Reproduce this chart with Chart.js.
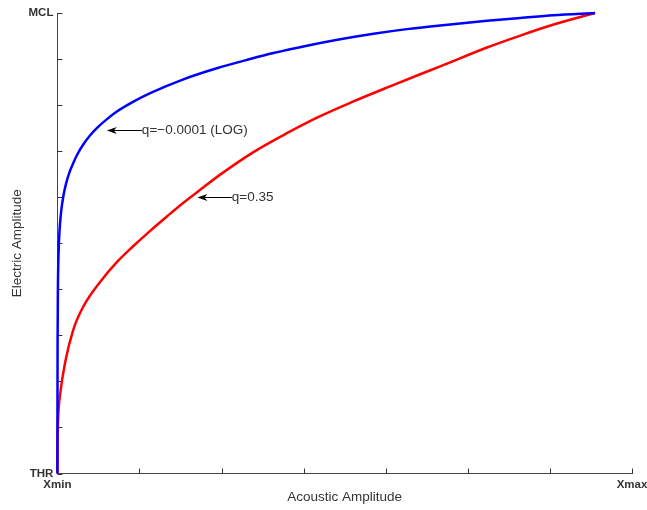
<!DOCTYPE html>
<html lang="en">
<head>
    <meta charset="UTF-8">
    <title>Loudness growth</title>
    <style>
        body {
            margin: 0;
            background: #fff;
        }
        #chartContainer {
            width: 647px;
            height: 510px;
        }
    </style>
</head>
<body>

<div id="chartContainer">
    <canvas id="myChart" width="647" height="510"></canvas>
</div>

<script src="https://cdn.jsdelivr.net/npm/chart.js"></script>
<script>
    // curve q=-0.0001 (LOG)
    const logX = [0, 0.006, 0.024, 0.061, 0.134, 0.268, 0.475, 0.731, 1.06, 1.49, 1.95, 2.52, 3.17, 3.92,
        4.80, 5.93, 7.24, 9.10, 11.30, 15.35, 19.42, 23.48, 26.32, 30.39, 34.45, 38.51, 42.58, 46.64,
        52.33, 56.39, 60.39, 65.5];
    const logY = [0, 13.9, 29.0, 40.0, 47.5, 53.0, 57.2, 60.3, 63.0, 65.5, 67.5, 69.6, 71.5, 73.3,
        75.0, 76.8, 78.6, 80.6, 82.6, 85.6, 88.0, 90.0, 91.3, 92.9, 94.3, 95.5, 96.5, 97.3,
        98.3, 98.9, 99.5, 100];

    // curve q=0.35
    const powX = [0, 0.012, 0.049, 0.146, 0.329, 0.938, 1.95, 3.17, 5.20, 7.24, 9.26, 11.30, 13.33,
        15.35, 17.39, 19.83, 23.88, 27.95, 32.01, 36.07, 40.14, 44.20, 46.64, 52.33, 56.39, 60.45, 65.5];
    const powY = [0, 5.2, 9.6, 13.9, 17.2, 24.1, 31.3, 36.3, 41.6, 45.9, 49.4, 52.7, 55.8,
        58.8, 61.6, 64.9, 69.8, 73.9, 77.6, 80.8, 83.8, 86.7, 88.4, 92.5, 95.1, 97.5, 100];

    const xTickLabels = ['Xmin', '', '', '', '', '', '', 'Xmax'];
    const yTickLabels = ['THR', '', '', '', '', '', '', '', '', '', 'MCL'];

    const notes = [
        {text: 'q=\u22120.0001 (LOG)', tipX: 6.02, tipY: 74.7, tailX: 10.29},
        {text: 'q=0.35', tipX: 17.06, tipY: 60.0, tailX: 21.25}
    ];

    const FONT = '"Liberation Sans", Arial, Helvetica, sans-serif';

    function toPoints(xs, ys) {
        return xs.map((x, i) => ({x: x, y: ys[i]}));
    }

    // short tick marks pointing into the plot
    const innerTicks = {
        id: 'innerTicks',
        beforeDatasetsDraw(chart) {
            const {ctx, chartArea, scales} = chart;
            ctx.save();
            ctx.strokeStyle = '#333';
            ctx.lineWidth = 1;
            ctx.beginPath();
            scales.x.ticks.forEach(t => {
                const px = Math.round(scales.x.getPixelForValue(t.value)) + 0.5;
                ctx.moveTo(px, chartArea.bottom);
                ctx.lineTo(px, chartArea.bottom - 5);
            });
            scales.y.ticks.forEach(t => {
                const py = Math.round(scales.y.getPixelForValue(t.value)) + 0.5;
                ctx.moveTo(chartArea.left, py);
                ctx.lineTo(chartArea.left + 5, py);
            });
            ctx.stroke();
            ctx.restore();
        }
    };

    // arrows with text pointing at the curves
    const arrowNotes = {
        id: 'arrowNotes',
        afterDatasetsDraw(chart) {
            const {ctx, scales} = chart;
            ctx.save();
            notes.forEach(n => {
                const tx = scales.x.getPixelForValue(n.tipX);
                const ty = Math.round(scales.y.getPixelForValue(n.tipY)) + 0.5;
                const ex = scales.x.getPixelForValue(n.tailX);
                ctx.strokeStyle = '#000';
                ctx.lineWidth = 1;
                ctx.beginPath();
                ctx.moveTo(tx + 5, ty);
                ctx.lineTo(ex, ty);
                ctx.stroke();
                ctx.fillStyle = '#000';
                ctx.beginPath();
                ctx.moveTo(tx, ty);
                ctx.lineTo(tx + 10, ty - 3.5);
                ctx.lineTo(tx + 7, ty);
                ctx.lineTo(tx + 10, ty + 3.5);
                ctx.closePath();
                ctx.fill();
                ctx.fillStyle = '#333';
                ctx.font = '13.5px ' + FONT;
                ctx.textAlign = 'left';
                ctx.textBaseline = 'middle';
                ctx.fillText(n.text, ex, ty);
            });
            ctx.restore();
        }
    };

    document.addEventListener('DOMContentLoaded', () => {
        const ctx = document.getElementById('myChart').getContext('2d');

        new Chart(ctx, {
            type: 'scatter',
            data: {
                datasets: [{
                    label: 'q=-0.0001 (LOG)',
                    data: toPoints(logX, logY),
                    borderColor: '#0000ff',
                    borderWidth: 2.5,
                    showLine: true,
                    pointRadius: 0,
                    cubicInterpolationMode: 'monotone',
                    clip: false
                }, {
                    label: 'q=0.35',
                    data: toPoints(powX, powY),
                    borderColor: '#ff0000',
                    borderWidth: 2.5,
                    showLine: true,
                    pointRadius: 0,
                    cubicInterpolationMode: 'monotone',
                    clip: false
                }]
            },
            options: {
                responsive: false,
                animation: false,
                layout: {
                    padding: {left: 8, right: 0, top: 13, bottom: 1.5}
                },
                plugins: {
                    legend: {display: false},
                    tooltip: {enabled: false}
                },
                scales: {
                    x: {
                        type: 'linear',
                        min: 0,
                        max: 70,
                        // Xmax label may hang a bit past the edge, like the original
                        afterFit: (scale) => { scale.paddingRight = 15; },
                        grid: {display: false, drawTicks: false},
                        border: {display: true, color: '#444', width: 1},
                        ticks: {
                            stepSize: 10,
                            autoSkip: false,
                            maxRotation: 0,
                            padding: 6,
                            color: '#333',
                            font: {family: FONT, size: 11.5, weight: 'bold', lineHeight: 1},
                            callback: (v, i) => xTickLabels[i]
                        },
                        title: {
                            display: true,
                            text: 'Acoustic Amplitude',
                            color: '#333',
                            font: {family: FONT, size: 13.5, lineHeight: 1},
                            padding: {top: -6, bottom: 4}
                        }
                    },
                    y: {
                        type: 'linear',
                        min: 0,
                        max: 100,
                        grid: {display: false, drawTicks: false},
                        border: {display: true, color: '#444', width: 1},
                        ticks: {
                            stepSize: 10,
                            autoSkip: false,
                            padding: 4,
                            color: '#333',
                            font: {family: FONT, size: 11.5, weight: 'bold', lineHeight: 1},
                            callback: (v, i) => yTickLabels[i]
                        },
                        title: {
                            display: true,
                            text: 'Electric Amplitude',
                            color: '#333',
                            font: {family: FONT, size: 13.5, lineHeight: 1},
                            padding: {top: 3, bottom: 0}
                        }
                    }
                }
            },
            plugins: [innerTicks, arrowNotes]
        });
    });
</script>

</body>
</html>
